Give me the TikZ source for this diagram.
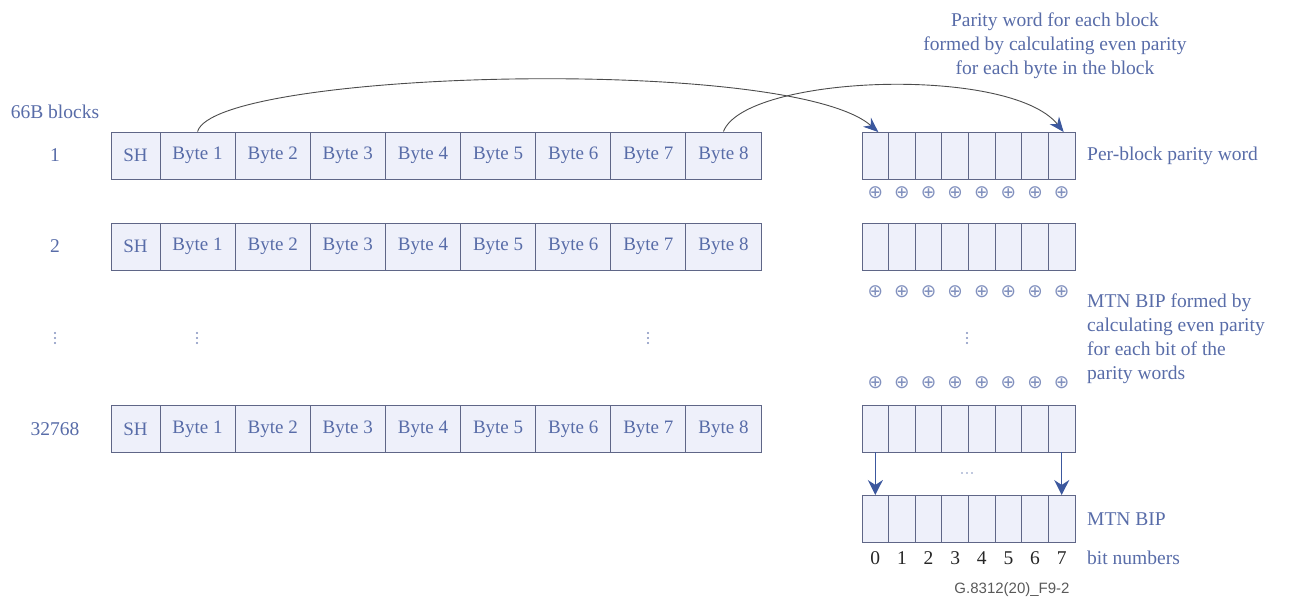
\documentclass[tikz,border=0pt]{standalone}
\usepackage{fontspec}
\setmainfont{Liberation Serif}
\newfontfamily\labsans{Liberation Sans}
\newfontfamily\symfont{DejaVu Sans}
\usetikzlibrary{arrows.meta}
\definecolor{txt}{RGB}{88,108,168}
\definecolor{edgec}{RGB}{95,102,135}
\definecolor{cellfill}{RGB}{238,240,250}
\definecolor{arr}{RGB}{60,88,158}
\begin{document}
\begin{tikzpicture}[x=1pt,y=-1pt,
  cell/.style={draw=edgec, line width=0.9pt, fill=cellfill, minimum height=47pt, inner sep=0pt, text=txt, font=\fontsize{19}{22}\selectfont},
  pcell/.style={draw=edgec, line width=0.9pt, fill=cellfill, minimum height=47pt, minimum width=26.625pt, inner sep=0pt},
  lab/.style={text=txt, font=\fontsize{19.5}{24}\selectfont, inner sep=0pt},
  xorsym/.style={text=txt!75, font=\symfont\fontsize{18.5}{18.5}\selectfont, inner sep=0pt},
  dotc/.style={fill=txt!75},
  arc/.style={draw=black!70, line width=0.9pt, -{Stealth[length=15pt,width=12pt,color=arr]}},
  downarr/.style={draw=arr, line width=1.4pt, -{Stealth[length=15pt,width=15pt]}}
]
\useasboundingbox (0,0) rectangle (1293,598);
% left rows
\foreach \r/\y in {a/155.5, b/246.5, c/429}{
  \node[cell, minimum width=49pt] (\r sh) at (135.5,\y) {SH};
  \foreach \i in {1,...,8}
    \node[cell, minimum width=75.125pt] (\r\i) at ({160+75.125*(\i-0.5)},\y) {Byte \i};
}
\node[lab] (hdr) at (55,112) {66B blocks};
\node[lab] (n1) at (55,155.5) {1};
\node[lab] (n2) at (55,246.5) {2};
\node[lab] (n3) at (55,429) {32768};
% vertical ellipses
\foreach \x in {55,197,648,967}
  \foreach \k in {-5,0,5}
    \fill[dotc] (\x,338+\k) circle (1.1pt);
% parity words
\foreach \r/\y in {p/156, q/246.5, s/428.5, m/519}{
  \foreach \i in {0,...,7}
    \node[pcell] (\r\i) at ({862+26.625*(\i+0.5)},\y) {};
}
\foreach \r/\y in {u/193, v/292, w/383}{
  \foreach \i in {0,...,7}
    \node[xorsym] (\r\i) at ({862+26.625*(\i+0.5)},\y) {⊕};
}
% horizontal ellipsis
\foreach \k in {-5,0,5}
  \fill[dotc] (967+\k,473) circle (0.9pt);
\foreach \i in {0,...,7}
  \node[font=\fontsize{19.5}{20}\selectfont, text=black!85, inner sep=0pt] (b\i) at ({862+26.625*(\i+0.5)},558) {\i};
% labels
\node[lab, align=center] (top) at (1055,46) {Parity word for each block\\formed by calculating even parity\\for each byte in the block};
\node[lab, anchor=west] (pbl) at (1087,156) {Per-block parity word};
\node[lab, anchor=north west, align=left] (mtnf) at (1087,294) {MTN BIP formed by\\calculating even parity\\for each bit of the\\parity words};
\node[lab, anchor=west] (mtn) at (1087,519) {MTN BIP};
\node[lab, anchor=west] (bitn) at (1087,558) {bit numbers};
\node[font=\labsans\fontsize{15}{15}\selectfont, text=black!65, inner sep=0pt] (fig) at (1012,590) {G.8312(20)\_F9-2};
% connectors
\draw[arc] (a1.north) .. controls (215,70) and (790,55) .. ([xshift=3pt]p0.north);
\draw[arc] (a8.north) .. controls (745,75) and (1010,65) .. ([xshift=2pt]p7.north);
\draw[downarr] (s0.south) -- (m0.north);
\draw[downarr] (s7.south) -- (m7.north);
\end{tikzpicture}
\end{document}
